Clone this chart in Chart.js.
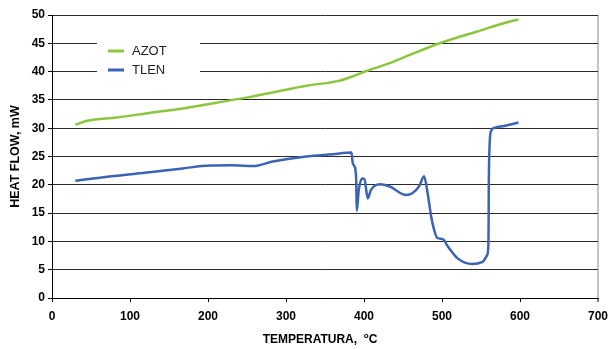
<!DOCTYPE html>
<html>
<head>
<meta charset="utf-8">
<script src="https://cdn.jsdelivr.net/npm/chart.js@4.4.1/dist/chart.umd.min.js"></script>
<style>
  html, body { margin: 0; padding: 0; background: #fff; }
  #wrap { width: 610px; height: 349px; position: relative; }
</style>
</head>
<body>
<div id="wrap"><canvas id="myChart"></canvas></div>
<script>
const azotTemp = [30, 45, 83, 125, 168, 211, 249, 283, 326, 369, 386, 403, 433, 458, 497, 544, 586, 598];
const azotFlow = [30.6, 31.3, 31.9, 32.7, 33.5, 34.5, 35.4, 36.3, 37.5, 38.4, 39.2, 40.1, 41.5, 42.9, 45.0, 47.05, 48.8, 49.2];

const tlenTemp = [30, 83, 125, 168, 202, 232, 258, 283, 326, 360, 384, 385.6, 388, 390, 390.7, 393.3, 397.6, 400.6, 404.8, 409, 420, 433, 454, 462, 471, 477, 481.6, 486, 490, 494, 501, 508, 520, 539, 552, 558, 559.6, 560, 561, 563, 568, 580, 598];
const tlenFlow = [20.7, 21.6, 22.2, 22.9, 23.4, 23.45, 23.3, 24.1, 25.0, 25.4, 25.7, 23.8, 23.2, 20.8, 15.4, 19.1, 21.1, 21.0, 17.6, 19.1, 20.1, 19.7, 18.2, 18.5, 19.8, 21.5, 18.5, 14.5, 12.0, 10.6, 10.4, 9.0, 7.0, 6.0, 6.4, 7.6, 10, 20, 27, 29.5, 30.1, 30.4, 31.0];

const seriesNames = ["AZOT", "TLEN"];
const xTicks = [0, 100, 200, 300, 400, 500, 600, 700];
const yTicks = [0, 5, 10, 15, 20, 25, 30, 35, 40, 45, 50];

const FONT = "'Liberation Sans', Arial, sans-serif";

const toPoints = (xs, ys) => xs.map((x, i) => ({ x: x, y: ys[i] }));

const insideLegend = {
  id: 'insideLegend',
  afterDraw(chart) {
    const ctx = chart.ctx;
    ctx.save();
    ctx.fillStyle = '#fff';
    ctx.fillRect(97, 36, 103, 44);
    chart.data.datasets.forEach((ds, i) => {
      const y = 51 + i * 19;
      ctx.strokeStyle = ds.borderColor;
      ctx.lineWidth = 3;
      ctx.beginPath();
      ctx.moveTo(108, y);
      ctx.lineTo(124, y);
      ctx.stroke();
      ctx.fillStyle = '#222';
      ctx.font = '13px ' + FONT;
      ctx.textBaseline = 'middle';
      ctx.textAlign = 'left';
      ctx.fillText(ds.label, 132, y);
    });

    // x axis title with superscript o
    const main = 'TEMPERATURA,  ';
    ctx.fillStyle = '#000';
    ctx.font = 'bold 12px ' + FONT;
    const w1 = ctx.measureText(main).width;
    const w3 = ctx.measureText('C').width;
    ctx.font = 'bold 8px ' + FONT;
    const w2 = ctx.measureText('o').width;
    let x = 320 - (w1 + w2 + w3) / 2;
    const base = 343;
    ctx.textBaseline = 'alphabetic';
    ctx.font = 'bold 12px ' + FONT;
    ctx.fillText(main, x, base);
    x += w1;
    ctx.font = 'bold 8px ' + FONT;
    ctx.fillText('o', x, base - 5);
    x += w2;
    ctx.font = 'bold 12px ' + FONT;
    ctx.fillText('C', x, base);
    ctx.restore();
  }
};

new Chart(document.getElementById('myChart').getContext('2d'), {
  type: 'line',
  data: {
    datasets: [{
      label: seriesNames[0],
      data: toPoints(azotTemp, azotFlow),
      borderColor: '#8CC63E',
      borderWidth: 2.5,
      pointRadius: 0,
      cubicInterpolationMode: 'monotone',
      fill: false,
    }, {
      label: seriesNames[1],
      data: toPoints(tlenTemp, tlenFlow),
      borderColor: '#3B64B4',
      borderWidth: 2.5,
      pointRadius: 0,
      cubicInterpolationMode: 'monotone',
      fill: false,
    }]
  },
  options: {
    responsive: true,
    maintainAspectRatio: false,
    animation: false,
    layout: { padding: { left: 0, right: 12, top: 15, bottom: 0 } },
    plugins: {
      legend: { display: false },
      tooltip: { enabled: false },
    },
    scales: {
      x: {
        type: 'linear',
        min: 0,
        max: 700,
        afterBuildTicks: s => { s.ticks = xTicks.map(v => ({ value: v })); },
        afterFit: s => { s.height = 51; s.paddingRight = 0; s.paddingLeft = 0; },
        ticks: {
          color: '#000',
          padding: 7,
          maxRotation: 0,
          font: { family: FONT, size: 12, weight: 'bold' },
        },
        grid: {
          drawOnChartArea: true,
          color: c => (c.tick && c.tick.value === 700 ? '#c4c4c4' : 'rgba(0,0,0,0)'),
          lineWidth: c => (c.tick && c.tick.value === 700 ? 2 : 1),
          tickColor: '#000',
          tickWidth: 1,
          tickLength: 4,
        },
        border: { display: true, color: '#000', width: 1 },
        title: { display: false },
      },
      y: {
        min: 0,
        max: 50,
        afterBuildTicks: s => { s.ticks = yTicks.map(v => ({ value: v })); },
        afterFit: s => { s.width = 52; },
        ticks: {
          color: '#000',
          padding: 3,
          font: { family: FONT, size: 12, weight: 'bold' },
        },
        grid: {
          color: '#2a2a2a',
          lineWidth: 1,
          tickColor: '#000',
          tickLength: 4,
        },
        border: { display: true, color: '#000', width: 1 },
        title: {
          display: true,
          text: 'HEAT FLOW, mW',
          color: '#000',
          padding: { top: 8, bottom: 0 },
          font: { family: FONT, size: 12.5, weight: 'bold' },
        },
      }
    }
  },
  plugins: [insideLegend]
});
</script>
</body>
</html>
